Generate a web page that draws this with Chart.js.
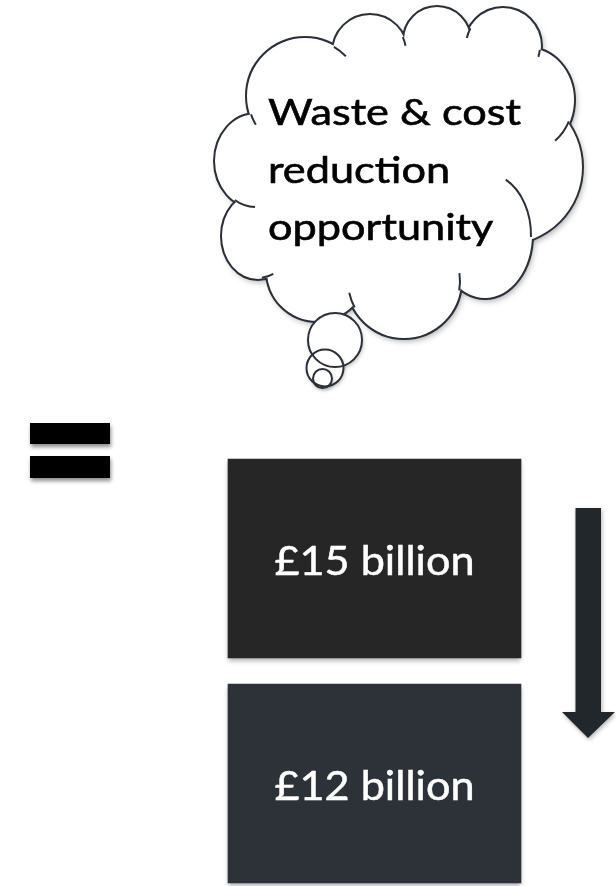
<!DOCTYPE html>
<html>
<head>
<meta charset="utf-8">
<script src="https://cdn.jsdelivr.net/npm/chart.js@4.4.1/dist/chart.umd.min.js"></script>
<style>
    html, body { margin: 0; padding: 0; background: #ffffff; overflow: hidden; }
    #wrap { width: 616px; height: 886px; }
</style>
</head>
<body>
<div id="wrap"><canvas id="chart" width="616" height="886"></canvas></div>
<script>
// Data
const categories = ['Current cost', 'After reduction'];
const costBillions = [15, 12];
const bubbleLines = ['Waste & cost', 'reduction', 'opportunity'];

const boxColors = ['#262626', '#2d3239'];
const INK = '#2b3038';
const FONT = 'Lato, "Open Sans", sans-serif';

// cloud lobes as ellipses [cx, cy, rx, ry], clockwise from the top left
const lobes = [
    [305, 96, 58, 58],
    [370, 52, 37, 37],
    [437, 40, 33, 33],
    [503, 46, 38, 38],
    [528, 100, 46, 52],
    [505, 167, 77, 77],
    [485, 235, 47, 63],
    [404, 281, 57, 57],
    [317, 271, 50, 50],
    [258, 236, 36, 43],
    [256, 161, 41, 47]
];
// little inner arcs where one lobe runs past the next: [lobe, from x,y, to x,y]
const ticks = [
    [0, 335, 45, 345, 57],
    [1, 401, 38, 404, 46],
    [3, 468, 27, 462, 37],
    [3, 540, 50, 542, 58],
    [4, 572, 123, 558, 145],
    [6, 533, 237, 505, 182],
    [7, 457, 290, 460, 273],
    [7, 350, 310, 348, 293],
    [9, 262, 279, 273, 273],
    [10, 233, 203, 255, 208],
    [0, 249, 115, 252, 127]
];
const bubbles = [[335, 340, 27], [325, 368, 18.5], [322.5, 378.5, 9.5]];

// draw text squeezed/stretched to a given width (the slide is stretched sideways)
function fitText(ctx, text, x, y, width, align) {
    const w = ctx.measureText(text).width;
    ctx.save();
    ctx.translate(x, y);
    ctx.scale(width / w, 1);
    ctx.textAlign = align;
    ctx.fillText(text, 0, 0);
    ctx.strokeText(text, 0, 0);   // slightly heavier, like the slide font
    ctx.restore();
}

function lobePath(ctx) {
    ctx.beginPath();
    lobes.forEach(([cx, cy, rx, ry]) => {
        ctx.moveTo(cx + rx, cy);
        ctx.ellipse(cx, cy, rx, ry, 0, 0, Math.PI * 2);
    });
}

function drawCloud(ctx) {
    ctx.save();
    // shadow under the whole shape
    lobePath(ctx);
    ctx.shadowColor = 'rgba(0, 0, 0, 0.35)';
    ctx.shadowBlur = 6;
    ctx.shadowOffsetX = 2;
    ctx.shadowOffsetY = 3;
    ctx.fillStyle = '#ffffff';
    ctx.fill();
    ctx.shadowColor = 'transparent';

    // outline: stroke every lobe then paint the inside white again
    lobePath(ctx);
    ctx.strokeStyle = INK;
    ctx.lineWidth = 4;
    ctx.stroke();
    lobePath(ctx);
    ctx.fillStyle = '#ffffff';
    ctx.fill();
    ctx.beginPath();
    lobes.forEach(([cx, cy], i) => i ? ctx.lineTo(cx, cy) : ctx.moveTo(cx, cy));
    ctx.closePath();
    ctx.fill();

    ctx.lineWidth = 2;
    ticks.forEach(([k, x1, y1, x2, y2]) => {
        const [cx, cy, rx, ry] = lobes[k];
        const a1 = Math.atan2((y1 - cy) / ry, (x1 - cx) / rx);
        const a2 = Math.atan2((y2 - cy) / ry, (x2 - cx) / rx);
        let d = a2 - a1;
        while (d > Math.PI) d -= 2 * Math.PI;
        while (d < -Math.PI) d += 2 * Math.PI;
        ctx.beginPath();
        ctx.ellipse(cx, cy, rx - 1, ry - 1, 0, a1, a1 + d, d < 0);
        ctx.stroke();
    });

    // thought bubbles
    bubbles.forEach(([x, y, r]) => {
        ctx.beginPath();
        ctx.arc(x, y, r, 0, Math.PI * 2);
        ctx.shadowColor = 'rgba(0, 0, 0, 0.3)';
        ctx.shadowBlur = 4;
        ctx.shadowOffsetX = 1;
        ctx.shadowOffsetY = 2;
        ctx.fillStyle = '#ffffff';
        ctx.fill();
    });
    ctx.shadowColor = 'transparent';
    ctx.lineWidth = 2;
    ctx.strokeStyle = INK;
    bubbles.forEach(([x, y, r]) => {
        ctx.beginPath();
        ctx.arc(x, y, r, 0, Math.PI * 2);
        ctx.stroke();
    });

    // text
    ctx.fillStyle = '#000000';
    ctx.strokeStyle = '#000000';
    ctx.lineWidth = 0.6;
    ctx.font = '37px ' + FONT;
    ctx.textBaseline = 'alphabetic';
    const squeeze = 253 / ctx.measureText(bubbleLines[0]).width;
    bubbleLines.forEach((line, i) => {
        fitText(ctx, line, 268, 125 + i * 57.5, ctx.measureText(line).width * squeeze, 'left');
    });
    ctx.restore();
}

function drawEquals(ctx) {
    ctx.save();
    ctx.fillStyle = '#000000';
    ctx.shadowColor = 'rgba(0, 0, 0, 0.45)';
    ctx.shadowBlur = 4;
    ctx.shadowOffsetX = 1;
    ctx.shadowOffsetY = 3;
    ctx.fillRect(30, 423, 80, 21);
    ctx.fillRect(30, 456, 80, 22);
    ctx.restore();
}

function drawArrow(ctx) {
    ctx.save();
    ctx.fillStyle = '#22272c';
    ctx.shadowColor = 'rgba(0, 0, 0, 0.3)';
    ctx.shadowBlur = 4;
    ctx.shadowOffsetX = 1;
    ctx.shadowOffsetY = 2;
    ctx.beginPath();
    ctx.moveTo(575.5, 508);
    ctx.lineTo(601, 508);
    ctx.lineTo(601, 712);
    ctx.lineTo(615, 712);
    ctx.lineTo(588, 738);
    ctx.lineTo(562, 712);
    ctx.lineTo(575.5, 712);
    ctx.closePath();
    ctx.fill();
    ctx.restore();
}

const decorations = {
    id: 'decorations',
    beforeDatasetsDraw: (chart) => {
        const { ctx } = chart;
        drawCloud(ctx);
        drawEquals(ctx);
        drawArrow(ctx);
        // box shadow
        ctx.save();
        ctx.shadowColor = 'rgba(0, 0, 0, 0.35)';
        ctx.shadowBlur = 5;
        ctx.shadowOffsetY = 3;
    },
    afterDatasetsDraw: (chart) => {
        const { ctx } = chart;
        ctx.restore();
        const meta = chart.getDatasetMeta(0);
        ctx.save();
        ctx.fillStyle = '#ffffff';
        ctx.strokeStyle = '#ffffff';
        ctx.lineWidth = 0.5;
        ctx.font = '40px ' + FONT;
        ctx.textBaseline = 'alphabetic';
        meta.data.forEach((bar, i) => {
            const label = '£' + costBillions[i] + ' billion';
            const cx = (bar.x + bar.base) / 2;
            fitText(ctx, label, cx, bar.y + 16.5, 200, 'center');
        });
        ctx.restore();
    }
};

function build() {
    const canvas = document.getElementById('chart');
    new Chart(canvas.getContext('2d'), {
        type: 'bar',
        data: {
            labels: categories,
            datasets: [{
                // both boxes are drawn the same size on the slide
                data: costBillions.map(() => [0, 1]),
                backgroundColor: boxColors,
                borderWidth: 0,
                barThickness: 199,
                clip: false
            }]
        },
        options: {
            indexAxis: 'y',
            responsive: false,
            animation: false,
            events: [],
            layout: { padding: { left: 228, right: 95, top: 558.5, bottom: 102.5 } },
            plugins: {
                legend: { display: false },
                tooltip: { enabled: false }
            },
            scales: {
                x: { display: false, min: 0, max: 1 },
                y: { display: false, offset: false }
            }
        },
        plugins: [decorations]
    });
}

document.fonts.load('36px Lato').then(build, build);
</script>
</body>
</html>
